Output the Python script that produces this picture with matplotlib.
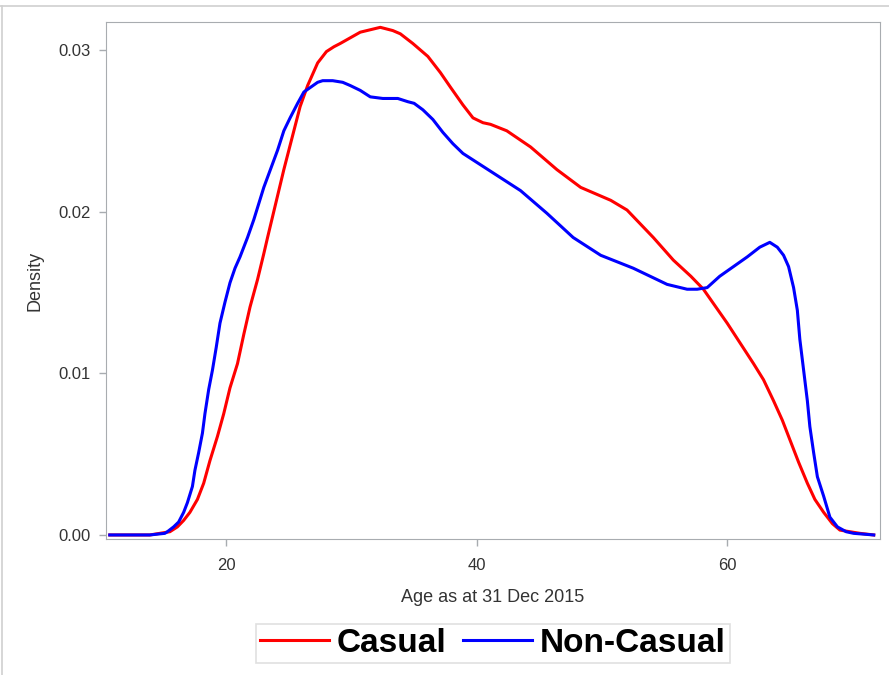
import matplotlib.pyplot as plt
from matplotlib.lines import Line2D

# data (age in years, kernel density)
age_casual = [10.7, 13.9, 15.5, 16.1, 16.6, 17.1, 17.7, 18.2, 18.7, 19.3, 19.8,
              20.3, 20.9, 21.4, 21.9, 22.5, 23.0, 23.3, 24.6, 25.9, 26.5, 27.3,
              28.0, 28.6, 29.1, 30.7, 32.3, 33.3, 33.9, 34.9, 36.1, 37.1, 37.9,
              38.9, 39.7, 40.5, 41.1, 42.4, 44.3, 46.4, 48.3, 50.7, 52.0, 54.1,
              55.7, 57.1, 58.1, 60.0, 62.1, 62.9, 63.7, 64.4, 65.0, 65.7, 66.4,
              67.0, 67.7, 68.4, 69.0, 70.6, 71.7]
dens_casual = [0.0, 0.0, 0.0002, 0.0005, 0.0009, 0.0014, 0.0022, 0.0032, 0.0046,
               0.0061, 0.0075, 0.0091, 0.0106, 0.0124, 0.0141, 0.0158, 0.0174,
               0.0184, 0.0226, 0.0265, 0.0278, 0.0292, 0.0299, 0.0302, 0.0304,
               0.0311, 0.0314, 0.0312, 0.0310, 0.0304, 0.0296, 0.0286, 0.0277,
               0.0266, 0.0258, 0.0255, 0.0254, 0.0250, 0.0240, 0.0226, 0.0215,
               0.0207, 0.0201, 0.0184, 0.0170, 0.0160, 0.0152, 0.0131, 0.0106,
               0.0096, 0.0083, 0.0071, 0.0059, 0.0045, 0.0032, 0.0022, 0.0014,
               0.0007, 0.0003, 0.0001, 0.0]

age_noncasual = [10.7, 13.9, 14.5, 15.1, 15.3, 15.8, 16.2, 16.6, 16.9, 17.3, 17.5,
                 17.8, 18.1, 18.3, 18.6, 18.9, 19.2, 19.5, 19.9, 20.3, 20.7, 21.1,
                 21.7, 22.2, 23.0, 24.1, 24.6, 25.1, 25.7, 26.2, 27.3, 27.7, 28.5,
                 29.3, 29.9, 30.7, 31.5, 32.5, 33.7, 34.5, 35.0, 35.7, 36.5, 37.3,
                 38.1, 38.9, 39.7, 41.3, 43.5, 45.6, 47.7, 49.9, 52.5, 55.2, 56.8,
                 57.6, 58.4, 59.4, 60.5, 61.6, 62.6, 63.4, 64.0, 64.2, 64.5, 64.9,
                 65.3, 65.6, 65.8, 66.1, 66.4, 66.6, 66.9, 67.2, 67.7, 68.2, 68.8,
                 69.5, 70.1, 71.7]
dens_noncasual = [0.0, 0.0, 0.00005, 0.0001, 0.0002, 0.0005, 0.0008, 0.0014,
                  0.0020, 0.0030, 0.0040, 0.0051, 0.0063, 0.0075, 0.0090, 0.0102,
                  0.0116, 0.0131, 0.0144, 0.0156, 0.0165, 0.0172, 0.0184, 0.0195,
                  0.0215, 0.0238, 0.0250, 0.0258, 0.0267, 0.0274, 0.0280, 0.0281,
                  0.0281, 0.0280, 0.0278, 0.0275, 0.0271, 0.0270, 0.0270, 0.0268,
                  0.0267, 0.0263, 0.0257, 0.0249, 0.0242, 0.0236, 0.0232, 0.0224,
                  0.0213, 0.0199, 0.0184, 0.0173, 0.0165, 0.0155, 0.0152, 0.0152,
                  0.0153, 0.0160, 0.0166, 0.0172, 0.0178, 0.0181, 0.0178, 0.0176,
                  0.0173, 0.0166, 0.0153, 0.0139, 0.0121, 0.0102, 0.0083, 0.0067,
                  0.0051, 0.0036, 0.0024, 0.0011, 0.0005, 0.0002, 0.0001, 0.0]

xticks = [20, 40, 60]
yticks = [0.00, 0.01, 0.02, 0.03]

plt.rcParams['font.family'] = ['Liberation Sans', 'DejaVu Sans']
gray = '#a8acb0'
txt = '#333333'

fig = plt.figure(figsize=(8.89, 6.75), dpi=100)
ax = fig.add_axes([106/889, 1-539/675, (880-106)/889, (539-22)/675])

ax.plot(age_casual, dens_casual, color='#ff0000', lw=2.2, label='Casual',
        solid_joinstyle='round')
ax.plot(age_noncasual, dens_noncasual, color='#0000ff', lw=2.2, label='Non-Casual',
        solid_joinstyle='round')

ax.set_xlim(10.4, 72.2)
ax.set_ylim(-0.00025, 0.03173)
ax.set_xticks(xticks)
ax.set_yticks(yticks)
ax.set_yticklabels(['%.2f' % v for v in yticks])
ax.tick_params(colors=gray, labelcolor=txt, labelsize=12, length=5, width=1)
ax.tick_params(axis='x', pad=9)
ax.tick_params(axis='y', pad=6)
for s in ax.spines.values():
    s.set_color(gray)
ax.set_xlabel('Age as at 31 Dec 2015', fontsize=13, color=txt, labelpad=11)
ax.set_ylabel('Density', fontsize=13, color=txt, labelpad=11)

leg = fig.legend(loc='center', bbox_to_anchor=(493/889, 1-643/675), ncol=2,
                 prop={'weight': 'bold', 'size': 24}, frameon=True, fancybox=False,
                 handlelength=2.05, handletextpad=0.25, columnspacing=0.5,
                 borderpad=0.12)
leg.get_frame().set_edgecolor('#d8d8d8')
leg.get_frame().set_linewidth(1.2)

# outer border (top and left)
fig.add_artist(Line2D([0, 1], [1-6/675, 1-6/675], color='#d0d0d0', lw=1.2))
fig.add_artist(Line2D([1.5/889, 1.5/889], [0, 1-6/675], color='#d0d0d0', lw=1.2))

fig.savefig('out.png', dpi=100)
